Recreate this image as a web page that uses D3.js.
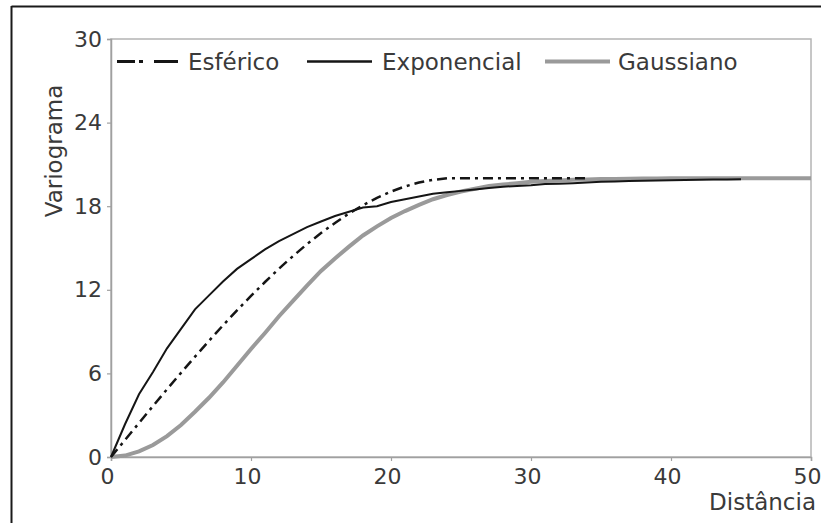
<!DOCTYPE html>
<html>
<head>
<meta charset="utf-8">
<script src="https://cdn.jsdelivr.net/npm/d3@7"></script>
<style>
  body { margin: 0; background: #fff; }
  text { font-family: "DejaVu Sans", sans-serif; fill: #3a3a3a; }
</style>
</head>
<body>
<div id="chart"></div>
<script>
// data
var lags = [0,1,2,3,4,5,6,7,8,9,10,11,12,13,14,15,16,17,18,19,20,21,22,23,24,25,
  26,27,28,29,30,31,32,33,34,35,36,37,38,39,40,41,42,43,44,45,46,47,48,49,50];

var esferico = [0,1.22,2.44,3.66,4.86,6.04,7.2,8.34,9.45,10.52,11.56,12.56,13.52,14.42,
  15.28,16.07,16.8,17.48,18.07,18.6,19.05,19.42,19.7,19.89,20,20,20,20,20,20,20,20,20,20,20];

var exponencial = [0,2.35,4.5,6.1,7.8,9.2,10.6,11.6,12.6,13.5,14.2,14.9,15.5,16.0,16.5,
  16.9,17.3,17.6,17.9,18.0,18.3,18.5,18.7,18.9,19.0,19.1,19.2,19.3,19.4,19.45,19.5,19.6,
  19.62,19.65,19.7,19.75,19.78,19.8,19.82,19.85,19.87,19.88,19.9,19.91,19.92,19.93];

var gaussiano = [0,0.1,0.4,0.86,1.5,2.3,3.25,4.25,5.35,6.55,7.75,8.9,10.1,11.2,12.3,13.35,
  14.25,15.1,15.9,16.55,17.15,17.65,18.1,18.5,18.8,19.05,19.25,19.45,19.55,19.65,19.75,
  19.8,19.85,19.9,19.92,19.95,19.96,19.97,19.98,19.99,20,20,20,20,20,20,20,20,20,20,20];

var xTicks = [0,10,20,30,40,50];
var yTicks = [0,6,12,18,24,30];
var seriesNames = ["Esférico", "Exponencial", "Gaussiano"];

var svgWidth = 821;
var svgHeight = 523;
var margin = { top: 39, right: 10, bottom: 66, left: 111 };
var width = svgWidth - margin.left - margin.right;
var height = svgHeight - margin.top - margin.bottom;

var svg = d3.select("#chart")
  .append("svg")
  .attr("width", svgWidth)
  .attr("height", svgHeight);

// picture frame (only top and left visible)
svg.append("line").attr("x1", 11.5).attr("x2", 821).attr("y1", 6.5).attr("y2", 6.5)
  .attr("stroke", "#1a1a1a").attr("stroke-width", 2);
svg.append("line").attr("x1", 11.5).attr("x2", 11.5).attr("y1", 6).attr("y2", 523)
  .attr("stroke", "#1a1a1a").attr("stroke-width", 2);

var chartGroup = svg.append("g")
  .attr("transform", `translate(${margin.left}, ${margin.top})`);

var x = d3.scaleLinear().domain([0, 50]).range([0, width]);
var y = d3.scaleLinear().domain([0, 30]).range([height, 0]);

// box
chartGroup.append("rect")
  .attr("width", width).attr("height", height)
  .attr("fill", "none").attr("stroke", "#b4b4b4").attr("stroke-width", 1.5);

var bottomAxis = d3.axisBottom(x).tickValues(xTicks).tickSize(4).tickPadding(7);
var leftAxis = d3.axisLeft(y).tickValues(yTicks).tickSize(4).tickPadding(5);

var gx = chartGroup.append("g")
  .attr("transform", `translate(0, ${height})`)
  .call(bottomAxis);
var gy = chartGroup.append("g").call(leftAxis);

[gx, gy].forEach(g => {
  g.select(".domain").attr("stroke", "#a0a0a0").attr("stroke-width", 1.5);
  g.selectAll(".tick line").attr("stroke", "#a0a0a0").attr("stroke-width", 1.2);
  g.selectAll(".tick text").style("font-size", "22px").attr("fill", "#3a3a3a");
});
gx.selectAll(".tick text").attr("dx", -4);

// lines
var line = d3.line().x(d => x(d[0])).y(d => y(d[1]));

chartGroup.append("path")
  .datum(gaussiano.map((v, i) => [lags[i], v]))
  .attr("d", line).attr("fill", "none")
  .attr("stroke", "#9a9a9a").attr("stroke-width", 4);

chartGroup.append("path")
  .datum(exponencial.map((v, i) => [lags[i], v]))
  .attr("d", line).attr("fill", "none")
  .attr("stroke", "#151515").attr("stroke-width", 2);

chartGroup.append("path")
  .datum(esferico.map((v, i) => [lags[i], v]))
  .attr("d", line).attr("fill", "none")
  .attr("stroke", "#151515").attr("stroke-width", 2.5)
  .attr("stroke-dasharray", "10,5,3,5");

// legend
var legend = [
  { name: seriesNames[0], x1: 117, x2: 178, tx: 188, color: "#151515", w: 3, dash: "18,4,4,11,30" },
  { name: seriesNames[1], x1: 307, x2: 372, tx: 382, color: "#151515", w: 2.5, dash: null },
  { name: seriesNames[2], x1: 545, x2: 610, tx: 618, color: "#9a9a9a", w: 4, dash: null }
];
legend.forEach(l => {
  svg.append("line")
    .attr("x1", l.x1).attr("x2", l.x2).attr("y1", 61.5).attr("y2", 61.5)
    .attr("stroke", l.color).attr("stroke-width", l.w)
    .attr("stroke-dasharray", l.dash);
  svg.append("text")
    .attr("x", l.tx).attr("y", 69.5)
    .style("font-size", "23px")
    .text(l.name);
});

// axis titles
svg.append("text")
  .attr("x", 816).attr("y", 510)
  .attr("text-anchor", "end")
  .style("font-size", "23px")
  .text("Distância");

svg.append("text")
  .attr("transform", "translate(62, 151) rotate(-90)")
  .attr("text-anchor", "middle")
  .style("font-size", "23px")
  .text("Variograma");
</script>
</body>
</html>
